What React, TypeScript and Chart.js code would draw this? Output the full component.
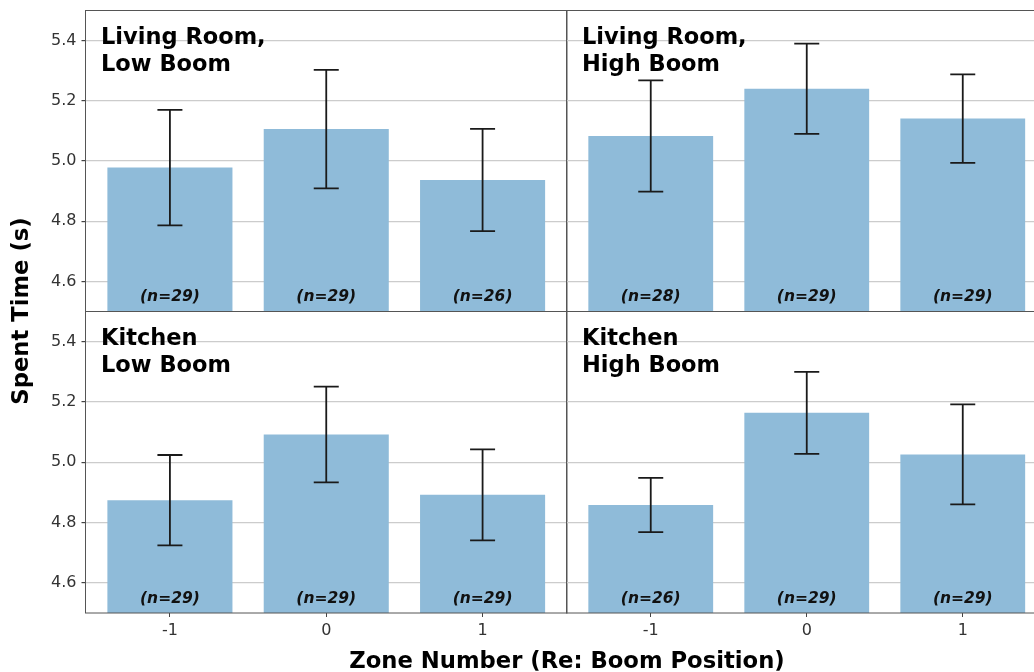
import { useEffect, useRef } from "react";
import { Chart, registerables } from "chart.js";

Chart.register(...registerables);

// ---------- data ----------
const zoneValues = [-1, 0, 1];
const zoneLabels = ["-1", "0", "1"];
const yTickValues = [4.6, 4.8, 5.0, 5.2, 5.4];

const livingLowMean = [4.978, 5.106, 4.937];
const livingLowErr = [0.192, 0.197, 0.17];
const livingLowN = [29, 29, 26];

const livingHighMean = [5.083, 5.24, 5.141];
const livingHighErr = [0.185, 0.15, 0.147];
const livingHighN = [28, 29, 29];

const kitchenLowMean = [4.874, 5.092, 4.892];
const kitchenLowErr = [0.15, 0.159, 0.151];
const kitchenLowN = [29, 29, 29];

const kitchenHighMean = [4.858, 5.164, 5.026];
const kitchenHighErr = [0.09, 0.136, 0.166];
const kitchenHighN = [26, 29, 29];

const titleLivingLow = ["Living Room,", "Low Boom"];
const titleLivingHigh = ["Living Room,", "High Boom"];
const titleKitchenLow = ["Kitchen", "Low Boom"];
const titleKitchenHigh = ["Kitchen", "High Boom"];

const yAxisTitle = "Spent Time (s)";
const xAxisTitle = "Zone Number (Re: Boom Position)";

// ---------- style / layout ----------
const W = 1050;
const H = 672;
const FONT = '"DejaVu Sans", "Liberation Sans", sans-serif';
const BAR = "#8fbbd9";
const GRID = "#cccccc";
const FRAME = "#555555";
const TICKC = "#333333";

type Panel = {
  mean: number[];
  err: number[];
  n: number[];
  title: string[];
  left: number;
  right: number;
  top: number;
  bottom: number;
  showY: boolean;
  showX: boolean;
  axisTitles: boolean;
};

const panels: Panel[] = [
  { mean: livingLowMean, err: livingLowErr, n: livingLowN, title: titleLivingLow, left: 85.5, right: 567, top: 10.5, bottom: 311.5, showY: true, showX: false, axisTitles: false },
  { mean: livingHighMean, err: livingHighErr, n: livingHighN, title: titleLivingHigh, left: 566.5, right: 1047, top: 10.5, bottom: 311.5, showY: false, showX: false, axisTitles: false },
  { mean: kitchenLowMean, err: kitchenLowErr, n: kitchenLowN, title: titleKitchenLow, left: 85.5, right: 567, top: 311.5, bottom: 613, showY: true, showX: true, axisTitles: true },
  { mean: kitchenHighMean, err: kitchenHighErr, n: kitchenHighN, title: titleKitchenHigh, left: 566.5, right: 1047, top: 311.5, bottom: 613, showY: false, showX: true, axisTitles: false },
];

function makeChart(canvas: HTMLCanvasElement, p: Panel) {
  const yW = 40;
  const xH = 40;
  const overlay = {
    id: "overlay",
    afterDraw(chart: any) {
      const ctx = chart.ctx as CanvasRenderingContext2D;
      const xs = chart.scales.x;
      const ys = chart.scales.y;
      const a = chart.chartArea;
      ctx.save();
      // error bars
      ctx.strokeStyle = "#1a1a1a";
      ctx.lineWidth = 1.8;
      p.mean.forEach((m, i) => {
        const x = xs.getPixelForValue(zoneValues[i]);
        const y1 = ys.getPixelForValue(m + p.err[i]);
        const y2 = ys.getPixelForValue(m - p.err[i]);
        ctx.beginPath();
        ctx.moveTo(x, y1);
        ctx.lineTo(x, y2);
        ctx.moveTo(x - 12.5, y1);
        ctx.lineTo(x + 12.5, y1);
        ctx.moveTo(x - 12.5, y2);
        ctx.lineTo(x + 12.5, y2);
        ctx.stroke();
      });
      // n labels
      ctx.fillStyle = "#111";
      ctx.font = `italic bold 15.5px ${FONT}`;
      ctx.textAlign = "center";
      ctx.textBaseline = "alphabetic";
      p.n.forEach((n, i) => {
        const x = xs.getPixelForValue(zoneValues[i]);
        ctx.fillText(`(n=${n})`, x, a.bottom - 10.3);
      });
      // panel title
      ctx.font = `bold 22.5px ${FONT}`;
      ctx.textAlign = "left";
      ctx.fillStyle = "#000";
      p.title.forEach((t, i) => {
        ctx.fillText(t, a.left + 15.5, a.top + 33 + i * 27.5);
      });
      // frame
      ctx.strokeStyle = FRAME;
      ctx.lineWidth = 1;
      ctx.strokeRect(a.left, a.top, a.right - a.left, a.bottom - a.top);
      // axis titles
      if (p.axisTitles) {
        ctx.fillStyle = "#000";
        ctx.font = `bold 22.7px ${FONT}`;
        ctx.textAlign = "center";
        ctx.textBaseline = "alphabetic";
        ctx.fillText(xAxisTitle, 567, 668);
        ctx.translate(22, 311);
        ctx.rotate(-Math.PI / 2);
        ctx.textBaseline = "middle";
        ctx.fillText(yAxisTitle, 0, 0);
      }
      ctx.restore();
    },
  };

  return new Chart(canvas, {
    type: "bar",
    data: {
      datasets: [
        {
          data: zoneValues.map((x, i) => ({ x, y: p.mean[i] })) as any,
          backgroundColor: BAR,
          borderWidth: 0,
          barPercentage: 0.8,
          categoryPercentage: 1,
        },
      ],
    },
    options: {
      responsive: false,
      animation: false,
      devicePixelRatio: 1,
      layout: {
        padding: {
          left: p.left - yW,
          top: p.top,
          right: W - p.right,
          bottom: H - p.bottom - xH,
        },
      },
      plugins: {
        legend: { display: false },
        tooltip: { enabled: false },
        title: { display: false },
      },
      scales: {
        x: {
          type: "linear",
          min: -1.54,
          max: 1.54,
          offset: false,
          afterBuildTicks: (s: any) => {
            s.ticks = zoneValues.map((v) => ({ value: v }));
          },
          afterFit: (s: any) => {
            s.height = xH;
            s.paddingLeft = 0;
            s.paddingRight = 0;
          },
          grid: {
            offset: false,
            drawOnChartArea: false,
            drawTicks: p.showX,
            tickLength: 4,
            tickColor: "#444",
          },
          border: { display: false },
          ticks: {
            display: p.showX,
            padding: 4,
            color: TICKC,
            font: { family: FONT, size: 16 },
            maxRotation: 0,
            callback: (v: any) => zoneLabels[zoneValues.indexOf(Number(v))] ?? "",
          },
        },
        y: {
          type: "linear",
          min: 4.5,
          max: 5.5,
          z: 1,
          afterBuildTicks: (s: any) => {
            s.ticks = yTickValues.map((v) => ({ value: v }));
          },
          afterFit: (s: any) => {
            s.width = yW;
            s.paddingTop = 0;
            s.paddingBottom = 0;
          },
          grid: {
            color: GRID,
            lineWidth: 1.2,
            drawTicks: p.showY,
            tickLength: 4,
            tickColor: "#444",
          },
          border: { display: false },
          ticks: {
            display: p.showY,
            padding: 5,
            color: TICKC,
            font: { family: FONT, size: 16 },
            callback: (v: any) => Number(v).toFixed(1),
          },
        },
      },
    },
    plugins: [overlay],
  } as any);
}

export default function App() {
  const refs = [useRef<HTMLCanvasElement>(null), useRef<HTMLCanvasElement>(null), useRef<HTMLCanvasElement>(null), useRef<HTMLCanvasElement>(null)];
  useEffect(() => {
    const charts = panels.map((p, i) => makeChart(refs[i].current!, p));
    return () => charts.forEach((c) => c.destroy());
  }, []);
  return (
    <div style={{ position: "absolute", left: 0, top: 0, width: 1034, height: 672, overflow: "hidden", background: "#fff" }}>
      {panels.map((_, i) => (
        <canvas
          key={i}
          ref={refs[i]}
          width={W}
          height={H}
          style={{ position: "absolute", left: 0, top: 0, width: W, height: H }}
        />
      ))}
    </div>
  );
}
